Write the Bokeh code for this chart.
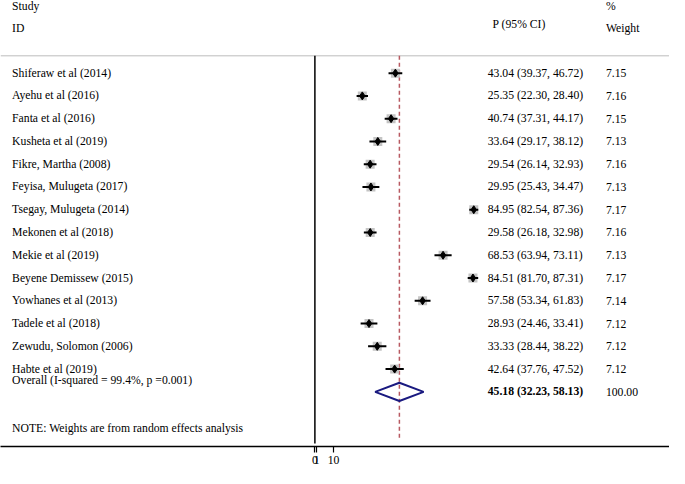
from bokeh.plotting import figure
from bokeh.models import Range1d, LinearAxis, FixedTicker, ColumnDataSource, Span
from bokeh.core.properties import value
from bokeh.embed import file_html
from bokeh.resources import INLINE

studies = ["Shiferaw et al (2014)", "Ayehu et al (2016)", "Fanta et al (2016)",
           "Kusheta et al (2019)", "Fikre, Martha (2008)", "Feyisa, Mulugeta (2017)",
           "Tsegay, Mulugeta (2014)", "Mekonen et al (2018)", "Mekie et al (2019)",
           "Beyene Demissew (2015)", "Yowhanes et al (2013)", "Tadele et al (2018)",
           "Zewudu, Solomon (2006)", "Habte et al (2019)"]
est = [43.04, 25.35, 40.74, 33.64, 29.54, 29.95, 84.95, 29.58, 68.53, 84.51, 57.58, 28.93, 33.33, 42.64]
lower = [39.37, 22.30, 37.31, 29.17, 26.14, 25.43, 82.54, 26.18, 63.94, 81.70, 53.34, 24.46, 28.44, 37.76]
upper = [46.72, 28.40, 44.17, 38.12, 32.93, 34.47, 87.36, 32.98, 73.11, 87.31, 61.83, 33.41, 38.22, 47.52]
weights = [7.15, 7.16, 7.15, 7.13, 7.16, 7.13, 7.17, 7.16, 7.13, 7.17, 7.14, 7.12, 7.12, 7.12]
overall_est, overall_lo, overall_hi = 45.18, 32.23, 58.13
overall_label = "Overall  (I-squared = 99.4%, p =0.001)"
note = "NOTE: Weights are from random effects analysis"
tick_values = [0, 1, 10]
tick_labels = {0: "0", 1: "1", 10: "10"}

FONT = "Liberation Serif"
FS = "11.7px"

rows = list(range(len(studies)))
ci_text = [f"{e:.2f} ({l:.2f}, {u:.2f})" for e, l, u in zip(est, lower, upper)]
w_text = [f"{w:.2f}" for w in weights]
src = ColumnDataSource(dict(y=rows, study=studies, est=est, lo=lower, hi=upper,
                            ci=ci_text, w=w_text))

X0, X1 = -168.1, 189.6
Y_TOP, Y_BOT = -3.19, 16.4

p = figure(frame_width=669, frame_height=446, output_backend="svg", toolbar_location=None,
           x_range=Range1d(X0, X1), y_range=Range1d(Y_BOT, Y_TOP),
           x_axis_location=None, y_axis_location=None, min_border=0,
           min_border_bottom=22)
p.outline_line_color = None
p.grid.visible = False
p.background_fill_color = "white"
p.border_fill_color = "white"

# top separator line
p.segment(x0=[X0], x1=[X1], y0=[-0.76], y1=[-0.76], line_color="#bdbdbd", line_width=1)
# null line
p.segment(x0=[0], x1=[0], y0=[-0.76], y1=[16.27], line_color="black", line_width=1.5)
# overall dashed line
p.segment(x0=[overall_est], x1=[overall_est], y0=[-0.76], y1=[16.1],
          line_color="#b85a62", line_width=1.5, line_dash="4 3")

# weight boxes
p.scatter(x="est", y="y", source=src, marker="square", size=9,
          fill_color="#c4c4c4", line_color=None)
# CI lines
p.segment(x0="lo", x1="hi", y0="y", y1="y", source=src, line_color="black", line_width=2)
# point estimates
p.scatter(x="est", y="y", source=src, marker="diamond", size=8,
          fill_color="black", line_color="black")

# overall diamond
oy = len(studies)
p.patch(x=[overall_lo, overall_est, overall_hi, overall_est, overall_lo],
        y=[oy, oy - 0.40, oy, oy + 0.40, oy],
        fill_color=None, line_color="#1a1a80", line_width=2)

# texts
common = dict(text_font=value(FONT), text_font_size=FS, text_baseline="middle",
              text_color="black")
p.text(x=-161.9, y=-2.93, text=["Study"], **common)
p.text(x=-161.9, y=-1.95, text=["ID"], **common)
p.text(x=95.0, y=-2.12, text=["P (95% CI)"], **common)
p.text(x=155.6, y=-2.93, text=["%"], **common)
p.text(x=155.6, y=-1.95, text=["Weight"], **common)

p.text(x=-161.9, y="y", text="study", source=src, **common)
p.text(x=92.4, y="y", text="ci", source=src, **common)
p.text(x=155.6, y="y", text="w", source=src, **common)

p.text(x=-161.9, y=oy - 0.5, text=[overall_label], **common)
p.text(x=92.4, y=oy, text=[f"{overall_est:.2f} ({overall_lo:.2f}, {overall_hi:.2f})"],
       text_font_style="bold", **common)
p.text(x=155.6, y=oy, text=["100.00"], **common)
p.text(x=-161.9, y=15.6, text=[note], **common)

# bottom axis
ax = LinearAxis(ticker=FixedTicker(ticks=tick_values))
ax.major_label_overrides = tick_labels
ax.axis_line_color = "black"
ax.axis_line_width = 1.5
ax.major_tick_line_color = "black"
ax.major_tick_line_width = 1.2
ax.major_tick_out = 6
ax.major_tick_in = 0
ax.minor_tick_line_color = None
ax.major_label_standoff = 3
ax.major_label_text_font = FONT
ax.major_label_text_font_size = FS
ax.major_label_text_color = "black"
p.add_layout(ax, "below")

open("out.html", "w").write(file_html(p, INLINE))
